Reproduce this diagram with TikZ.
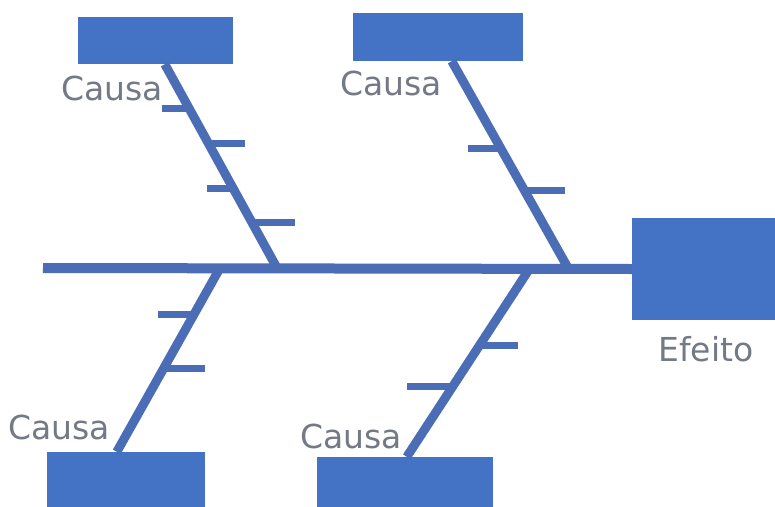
\documentclass[tikz,border=0pt]{standalone}
\usepackage{fontspec}
\setmainfont{DejaVu Sans}
\usetikzlibrary{calc}
\definecolor{fishblue}{HTML}{4472C4}
\definecolor{bonecol}{HTML}{4A6DB5}
\definecolor{labelgray}{HTML}{737985}
\begin{document}
\begin{tikzpicture}[x=1pt,y=-1pt,
  causebox/.style={fill=fishblue,draw=none,inner sep=0pt,minimum width=#1},
  causebox/.default=155,
  lbl/.style={text=labelgray,font=\fontsize{33}{33}\selectfont,inner sep=0pt},
  spine/.style={draw=bonecol,line width=10pt},
  bone/.style={draw=bonecol,line width=9pt},
  tick/.style={draw=bonecol,line width=7pt}]
\fill[white] (0,0) rectangle (775,506);
\useasboundingbox (0,0) rectangle (775,506);
% boxes
\node[causebox=155,minimum height=47pt] (c1) at (155.5,40.5) {};
\node[causebox=170,minimum height=48pt] (c2) at (438,37) {};
\node[causebox=158,minimum height=60pt] (c3) at (126,482) {};
\node[causebox=176,minimum height=60pt] (c4) at (405,487) {};
\node[causebox=143,minimum height=102pt] (ef) at (703.5,269) {};
% labels
\node[lbl,anchor=east] (l1) at (163,88) {Causa};
\node[lbl,anchor=east] (l2) at (442,83) {Causa};
\node[lbl,anchor=east] (l3) at (110,427) {Causa};
\node[lbl,anchor=east] (l4) at (402,436) {Causa};
\node[lbl] (l5) at (706,349) {Efeito};
% spine
\coordinate (tail) at (43,268);
\coordinate (j1) at (277,268);
\coordinate (j2) at (568,268);
\coordinate (j3) at (220,268);
\coordinate (j4) at (530,268);
\draw[spine] (tail) -- (ef.west);
% bone start points on boxes
\coordinate (s1) at ($(c1.south west)+(87,0)$);
\coordinate (s2) at ($(c2.south west)+(99,0)$);
\coordinate (s3) at ($(c3.north west)+(70,0)$);
\coordinate (s4) at ($(c4.north west)+(90,0)$);
\draw[bone] (s1) -- (j1);
\draw[bone] (s2) -- (j2);
\draw[bone] (j3) -- (s3);
\draw[bone] (j4) -- (s4);
% ticks
\draw[tick] ($(s1)!0.216!(j1)$) -- ++(-27,0);
\draw[tick] ($(s1)!0.387!(j1)$) -- ++(37,0);
\draw[tick] ($(s1)!0.608!(j1)$) -- ++(-26,0);
\draw[tick] ($(s1)!0.775!(j1)$) -- ++(43,0);
\draw[tick] ($(s2)!0.42!(j2)$) -- ++(-33,0);
\draw[tick] ($(s2)!0.623!(j2)$) -- ++(41,0);
\draw[tick] ($(j3)!0.255!(s3)$) -- ++(-36,0);
\draw[tick] ($(j3)!0.549!(s3)$) -- ++(42,0);
\draw[tick] ($(j4)!0.413!(s4)$) -- ++(39,0);
\draw[tick] ($(j4)!0.63!(s4)$) -- ++(-45,0);
\end{tikzpicture}
\end{document}
